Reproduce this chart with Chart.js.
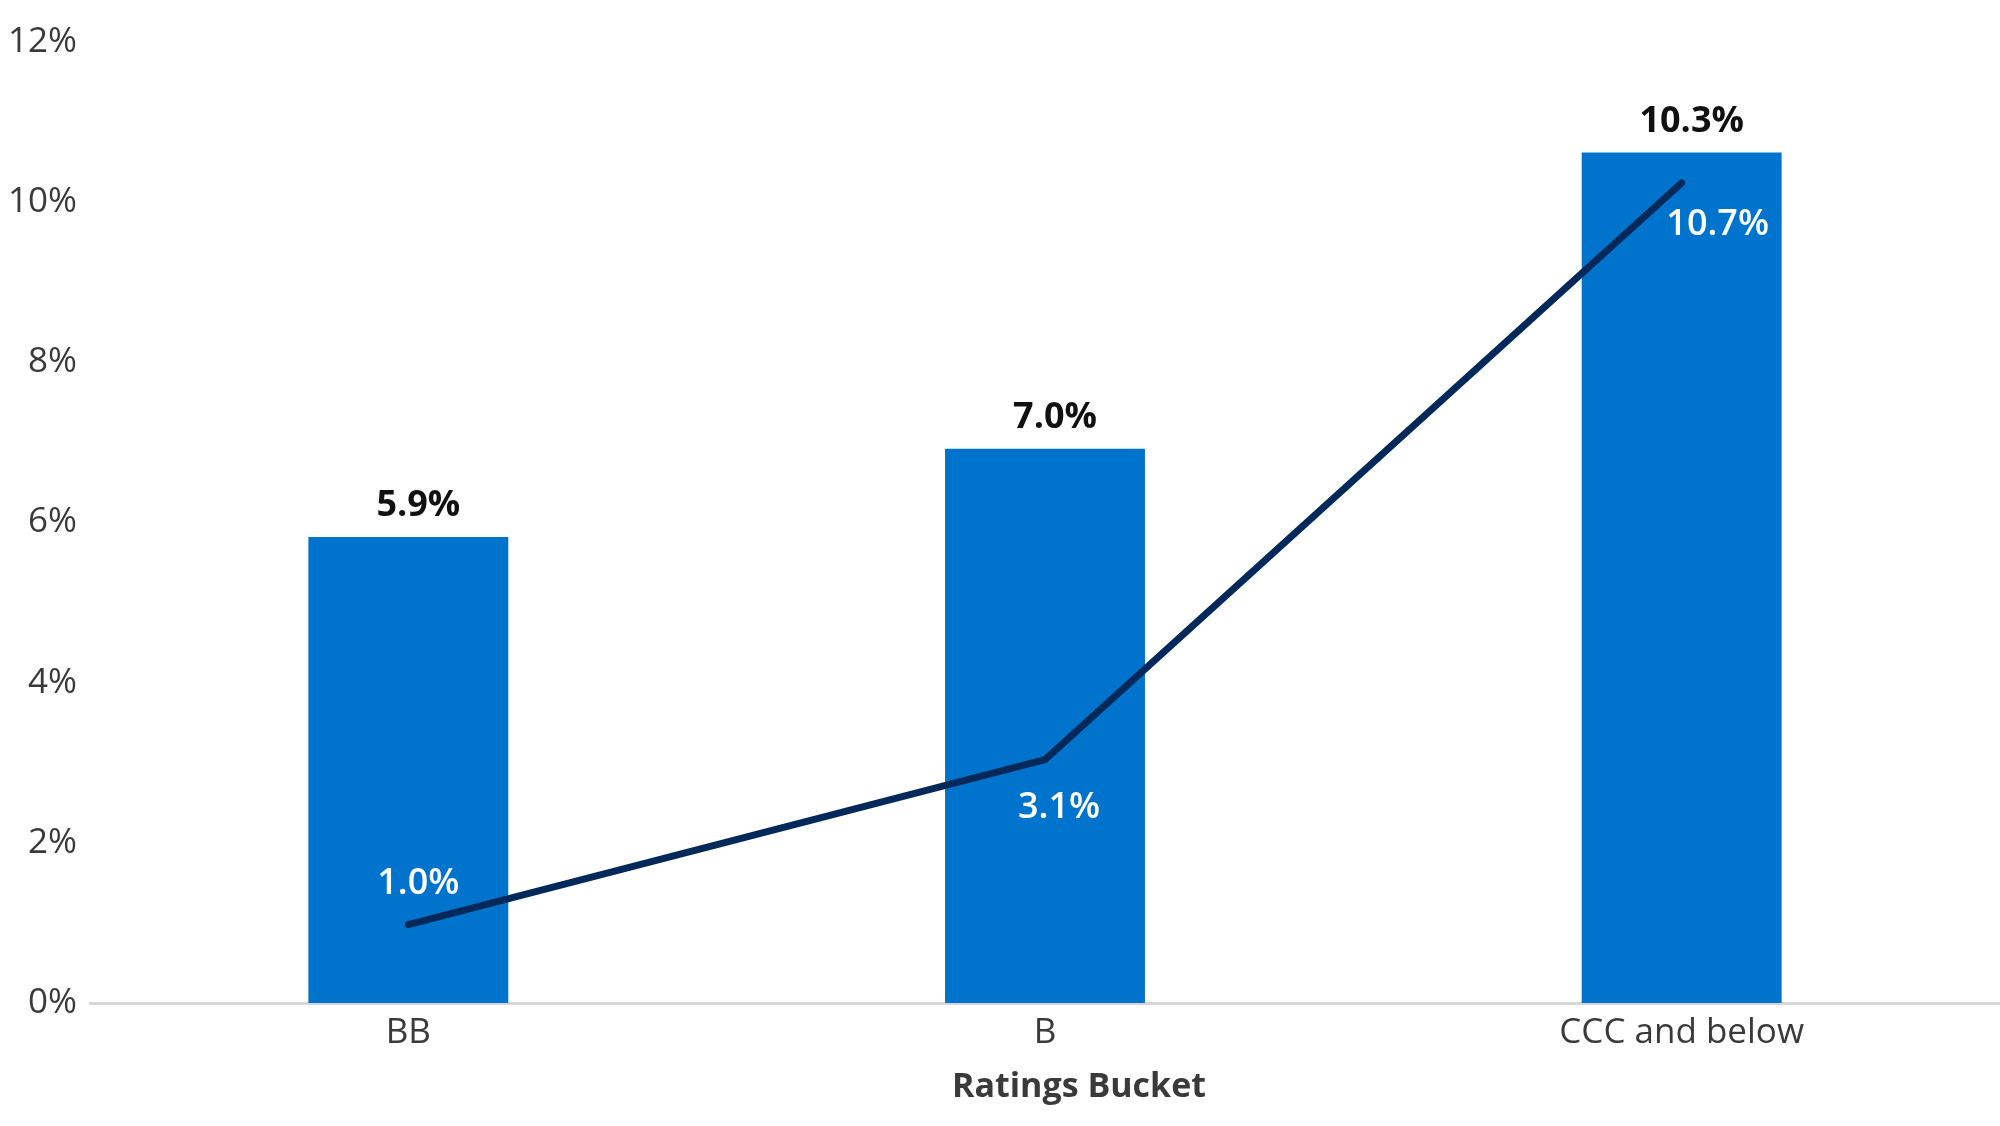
<!DOCTYPE html>
<html>
<head>
<meta charset="utf-8">
<script src="https://cdn.jsdelivr.net/npm/chart.js@4.4.1/dist/chart.umd.min.js"></script>
<style>
  html, body { margin: 0; padding: 0; background: #fff; }
  canvas { display: block; }
</style>
</head>
<body>
<canvas id="chart" width="2000" height="1126"></canvas>
<script>
// Datos
const categories = ['BB', 'B', 'CCC and below'];
const barValues  = [5.82, 6.92, 10.62];
const lineValues = [0.98, 3.04, 10.24];
const barLabels  = ['5.9%', '7.0%', '10.3%'];
const lineLabels = ['1.0%', '3.1%', '10.7%'];
const axisTitle  = 'Ratings Bucket';

const FONT = '"Open Sans", "Noto Sans", sans-serif';

// Etiquetas de valores + título del eje
const labelsPlugin = {
  id: 'valueLabels',
  afterDatasetsDraw(chart) {
    const ctx = chart.ctx;
    ctx.save();
    ctx.textAlign = 'center';
    ctx.textBaseline = 'middle';

    // barras: negrita negra encima
    ctx.font = `bold 36px ${FONT}`;
    ctx.fillStyle = '#111';
    chart.getDatasetMeta(1).data.forEach((bar, i) => {
      ctx.fillText(barLabels[i], bar.x + 10, bar.y - 31);
    });

    // línea: blanco sobre la barra
    const lineOffsets = [[10, -41], [14, 48], [36, 42]];
    ctx.font = `600 36px ${FONT}`;
    ctx.fillStyle = '#fff';
    chart.getDatasetMeta(0).data.forEach((pt, i) => {
      const [dx, dy] = lineOffsets[i];
      ctx.fillText(lineLabels[i], pt.x + dx, pt.y + dy);
    });

    // título del eje x
    ctx.font = `bold 34px ${FONT}`;
    ctx.fillStyle = '#3a3a3a';
    ctx.fillText(axisTitle, 1079, 1087);
    ctx.restore();
  },
};

new Chart(document.getElementById('chart'), {
  data: {
    labels: categories,
    datasets: [
      {
        type: 'line',
        data: lineValues,
        borderColor: '#03295a',
        borderWidth: 7,
        borderCapStyle: 'round',
        borderJoinStyle: 'round',
        pointRadius: 0,
        tension: 0,
        order: 0,
      },
      {
        type: 'bar',
        data: barValues,
        backgroundColor: '#0074cd',
        categoryPercentage: 1,
        barPercentage: 0.314,
        order: 1,
      },
    ],
  },
  options: {
    responsive: false,
    animation: false,
    devicePixelRatio: 1,
    layout: { padding: { top: 42, right: 0, bottom: 0, left: 0 } },
    plugins: {
      legend: { display: false },
      tooltip: { enabled: false },
    },
    scales: {
      x: {
        grid: { display: false, drawTicks: false },
        border: { display: true, color: '#d6d6d6', width: 3 },
        ticks: { color: '#3a3a3a', font: { family: FONT, size: 35 }, padding: 9 },
        afterFit: s => { s.height = 123; },
      },
      y: {
        min: 0,
        max: 12,
        grid: { display: false, drawTicks: false },
        border: { display: false },
        ticks: {
          stepSize: 2,
          color: '#3a3a3a',
          font: { family: FONT, size: 35 },
          padding: 13,
          callback: v => v + '%',
        },
        afterFit: s => { s.width = 90; },
      },
    },
  },
  plugins: [labelsPlugin],
});
</script>
</body>
</html>
